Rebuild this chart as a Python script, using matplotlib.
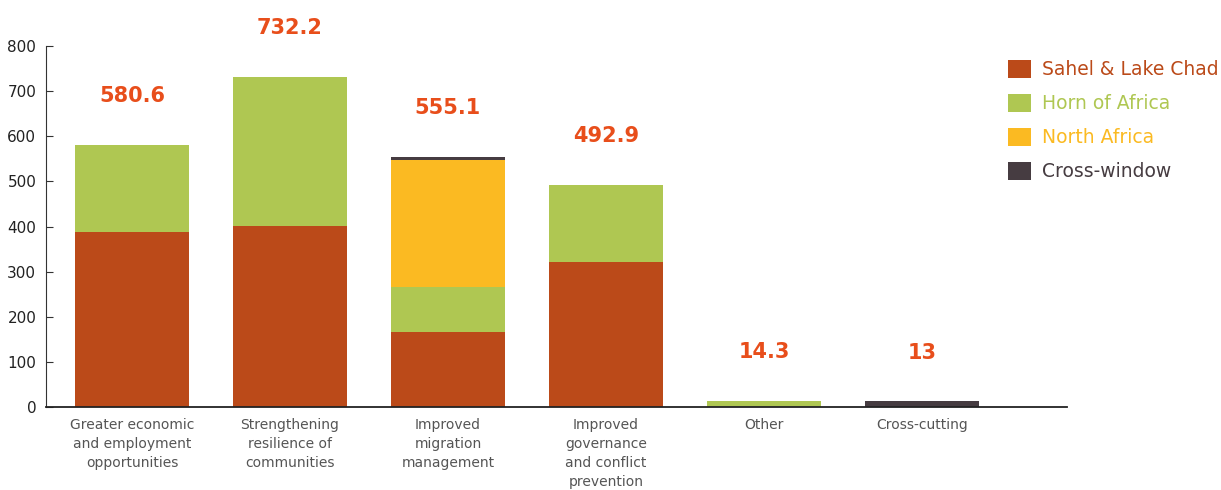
import matplotlib.pyplot as plt
import numpy as np

categories = ['Greater economic\nand employment\nopportunities',
              'Strengthening\nresilience of\ncommunities',
              'Improved\nmigration\nmanagement',
              'Improved\ngovernance\nand conflict\nprevention',
              'Other',
              'Cross-cutting']
sahel = [388, 401, 166, 321, 1.0, 0]
horn = [192.6, 331.2, 100, 171.9, 13.3, 0]
north = [0, 0, 282, 0, 0, 0]
cross = [0, 0, 7.1, 0, 0, 13]
totals = ['580.6', '732.2', '555.1', '492.9', '14.3', '13']

series = ['Sahel & Lake Chad', 'Horn of Africa', 'North Africa', 'Cross-window']
colors = ['#BB4A19', '#AFC752', '#FBBA22', '#463C41']

fig = plt.figure(figsize=(12.21, 4.90), dpi=100)
ax = fig.add_axes([0.0377, 0.1694, 0.8364, 0.7366])

x = np.arange(len(categories))
bottom = np.zeros(len(categories))
for vals, name, col in zip([sahel, horn, north, cross], series, colors):
    ax.bar(x, vals, 0.72, bottom=bottom, color=col, label=name)
    bottom += np.array(vals)

# total labels above bars
for i, t in enumerate(totals):
    ax.annotate(t, (x[i], bottom[i]), xytext=(0, 35), textcoords='offset points',
                ha='center', va='center', fontsize=15, fontweight='bold',
                color='#E84E1B')

ax.set_xlim(-0.544, 5.92)
ax.set_ylim(0, 800)
ax.set_yticks(range(0, 801, 100))
ax.set_xticks(x)
ax.set_xticklabels(categories, fontsize=10, color='#555555', linespacing=1.45)
ax.tick_params(axis='x', length=0, pad=8)
ax.tick_params(axis='y', labelsize=11, color='#333333', labelcolor='#222222',
               length=5, direction='in', pad=7)
for s in ['top', 'right']:
    ax.spines[s].set_visible(False)
ax.spines['left'].set_color('#333333')
ax.spines['bottom'].set_color('#222222')
ax.spines['bottom'].set_linewidth(1.3)

leg = fig.legend(loc='upper left', bbox_to_anchor=(0.8116, 0.913), frameon=False,
                 fontsize=13.5, handlelength=1.25, handleheight=1.1,
                 handletextpad=0.55, labelspacing=0.78)
for txt, col in zip(leg.get_texts(), colors):
    txt.set_color(col)

plt.savefig('out.png')
